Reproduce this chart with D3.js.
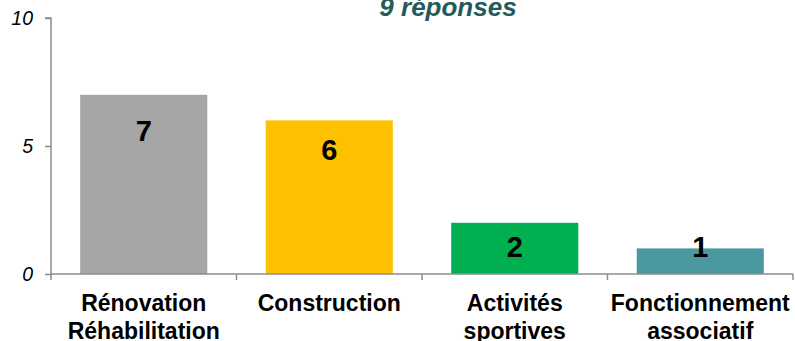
<!DOCTYPE html>
<html>
<head>
<meta charset="utf-8">
<script src="https://cdn.jsdelivr.net/npm/d3@7"></script>
<style>
  html, body { margin: 0; padding: 0; background: #fff; }
  svg { display: block; }
  text { font-family: "Liberation Sans", Arial, sans-serif; }
</style>
</head>
<body>
<svg id="chart" width="795" height="341"></svg>
<script>
const categories = [["Rénovation", "Réhabilitation"], ["Construction"], ["Activités", "sportives"], ["Fonctionnement", "associatif"]];
const values = [7, 6, 2, 1];
const colors = ["#A5A5A5", "#FFC000", "#00B050", "#4A99A1"];
const labelBaseline = [5.2, 4.45, 0.66, 0.66]; // value-unit position of data label baselines
const yTicks = [0, 5, 10];
const title = "9 réponses";

(function () {
const svg = d3.select("#chart");
const mLeft = 51, mRight = 793, mTop = 18, mBottom = 274;

const x = d3.scaleBand().domain(d3.range(values.length)).range([mLeft, mRight])
  .paddingInner(0.315).paddingOuter(0.1575);
const y = d3.scaleLinear().domain([0, 10]).range([mBottom, mTop]);

const axisColor = "#8C8C8C";

// bars
svg.append("g").selectAll("rect").data(values).join("rect")
  .attr("x", (d, i) => x(i))
  .attr("y", d => y(d))
  .attr("width", x.bandwidth())
  .attr("height", d => y(0) - y(d))
  .attr("fill", (d, i) => colors[i]);

// y axis
const yAxis = svg.append("g").attr("transform", `translate(${mLeft},0)`)
  .call(d3.axisLeft(y).tickValues(yTicks).tickSize(6).tickPadding(12).tickFormat(d3.format("d")));
yAxis.select(".domain").attr("stroke", axisColor).attr("stroke-width", 1.5).attr("d", `M-6,${mTop}H0V${mBottom}`);
yAxis.selectAll(".tick line").attr("stroke", axisColor).attr("stroke-width", 1.5);
yAxis.selectAll(".tick text").attr("fill", "#000").attr("font-size", 19.5).attr("font-style", "italic")
  .attr("font-family", "Liberation Sans, Arial, sans-serif");

// x axis
const xAxis = svg.append("g").attr("transform", `translate(0,${mBottom})`);
xAxis.append("line").attr("x1", mLeft).attr("x2", mRight).attr("y1", 0).attr("y2", 0)
  .attr("stroke", axisColor).attr("stroke-width", 1.5);
const boundaries = d3.range(values.length + 1).map(i => mLeft + i * x.step());
xAxis.selectAll("line.tk").data(boundaries).join("line").attr("class", "tk")
  .attr("x1", d => d).attr("x2", d => d).attr("y1", 0).attr("y2", 6)
  .attr("stroke", axisColor).attr("stroke-width", 1.5);

// category labels
const cl = svg.append("g").selectAll("text").data(categories).join("text")
  .attr("text-anchor", "middle")
  .attr("font-size", 23).attr("font-weight", "bold").attr("fill", "#000")
  .attr("x", (d, i) => x(i) + x.bandwidth() / 2)
  .attr("y", 311);
cl.selectAll("tspan").data(d => d).join("tspan")
  .attr("x", function() { return d3.select(this.parentNode).attr("x"); })
  .attr("dy", (d, j) => j === 0 ? 0 : 28)
  .text(d => d);

// value labels
svg.append("g").selectAll("text").data(values).join("text")
  .attr("text-anchor", "middle")
  .attr("font-size", 29).attr("font-weight", "bold").attr("fill", "#000")
  .attr("x", (d, i) => x(i) + x.bandwidth() / 2)
  .attr("y", (d, i) => y(labelBaseline[i]))
  .text(d => d);

// title
svg.append("text").attr("x", 448).attr("y", 16).attr("text-anchor", "middle")
  .attr("font-size", 26).attr("font-weight", "bold").attr("font-style", "italic")
  .attr("fill", "#245A5A").text(title);
})();
</script>
</body>
</html>
